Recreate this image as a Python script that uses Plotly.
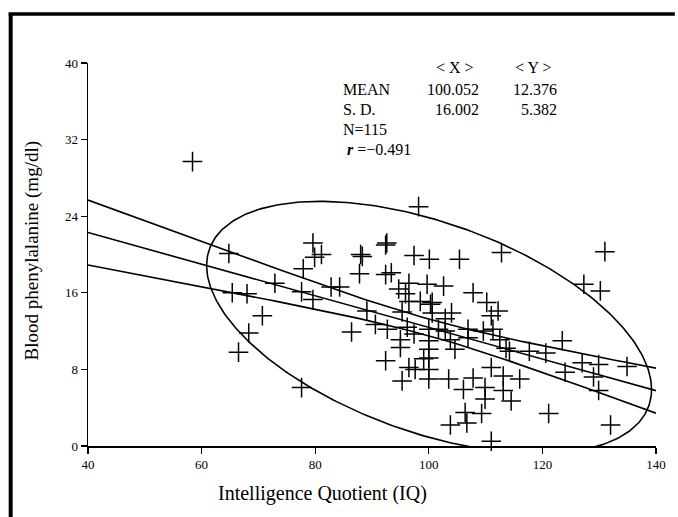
import numpy as np
import plotly.graph_objects as go

# ---- data ----
iq = [58.4, 64.8, 65.4, 68.0, 66.5, 68.3, 70.7, 72.9, 77.6, 79.6,
      77.6, 77.9, 79.6, 79.9, 81.1, 82.8, 84.3, 88.0, 88.3, 87.8,
      86.4, 89.1, 90.6, 92.6, 92.4, 92.4, 93.4, 92.4, 92.7, 94.7,
      95.9, 96.5, 97.4, 98.2, 99.7, 100.1, 102.6, 105.4, 96.5, 98.5,
      100.6, 100.3, 95.3, 100.6, 104.0, 102.9, 96.2, 97.4, 100.0, 101.7,
      102.9, 103.8, 104.6, 95.0, 95.0, 100.0, 100.0, 100.0, 99.1, 96.5,
      97.6, 100.0, 95.3, 100.0, 103.5, 107.8, 106.1, 106.4, 109.3, 103.8,
      106.7, 111.0, 109.9, 109.9, 111.0, 113.1, 113.1, 114.5, 116.0, 106.9,
      106.9, 109.6, 111.3, 112.5, 113.6, 114.2, 107.8, 110.2, 112.2, 111.0,
      112.8, 117.7, 120.6, 123.5, 124.0, 127.0, 129.9, 134.9, 129.0, 129.9,
      121.1, 132.0, 127.3, 130.2, 131.0]
phe = [29.7, 20.1, 16.0, 15.9, 9.8, 11.8, 13.6, 17.0, 16.1, 15.3,
       6.1, 18.5, 21.2, 19.7, 20.0, 16.6, 16.6, 20.0, 19.8, 18.0,
       11.9, 14.1, 12.7, 21.2, 21.0, 17.9, 18.1, 8.9, 12.2, 16.4,
       15.9, 17.0, 19.9, 25.0, 16.9, 19.5, 16.7, 19.5, 15.1, 15.1,
       15.0, 14.8, 14.0, 13.9, 13.9, 13.3, 12.4, 11.7, 12.2, 12.2,
       12.0, 11.1, 10.1, 11.1, 10.3, 11.0, 10.1, 9.2, 9.1, 8.2,
       8.0, 8.0, 6.8, 7.0, 7.0, 7.1, 5.9, 3.5, 3.4, 2.2,
       2.4, 0.5, 6.1, 4.9, 8.2, 7.3, 5.8, 4.7, 7.0, 12.2,
       11.3, 12.0, 12.2, 11.1, 10.2, 9.9, 16.0, 15.0, 14.1, 13.6,
       20.2, 9.9, 9.7, 11.0, 7.7, 8.7, 8.5, 8.3, 7.2, 5.8,
       3.4, 2.2, 16.9, 16.2, 20.3]

# summary statistics printed on the chart
MEAN_X, MEAN_Y = 100.052, 12.376
SD_X, SD_Y = 16.002, 5.382
N = 115
R = -0.491
T_CRIT = 1.981          # t(0.975, N-2)
CHI_C = 2.4477          # sqrt(chi2(0.95, 2))

x_ticks = [40, 60, 80, 100, 120, 140]
y_ticks = [0, 8, 16, 24, 32, 40]

# ---- derived overlays (regression line, its 95% band, 95% ellipse) ----
slope = R * SD_Y / SD_X
icpt = MEAN_Y - slope * MEAN_X
xl = np.linspace(40, 140, 101)
yl = icpt + slope * xl
s_res = SD_Y * np.sqrt(1 - R**2) * np.sqrt((N - 1) / (N - 2))
se = s_res * np.sqrt(1 / N + (xl - MEAN_X) ** 2 / ((N - 1) * SD_X**2))
upper = yl + T_CRIT * se
lower = yl - T_CRIT * se

t = np.linspace(0, 2 * np.pi, 400)
ex = MEAN_X + CHI_C * SD_X * np.cos(t)
ey = MEAN_Y + CHI_C * SD_Y * (R * np.cos(t) + np.sqrt(1 - R**2) * np.sin(t))

W, H = 678, 517
L, Rm, T, B = 88, 17, 63, 71
pw, ph = W - L - Rm, H - T - B


def px(xp):
    return (xp - L) / pw


def py(yp):
    return (H - B - yp) / ph


SERIF = "Liberation Serif, Times New Roman, serif"
lw = 1.6
fig = go.Figure()
for yy in (upper, yl, lower):
    fig.add_trace(go.Scatter(x=xl, y=yy, mode="lines",
                             line=dict(color="black", width=lw), hoverinfo="skip"))
fig.add_trace(go.Scatter(x=ex, y=ey, mode="lines",
                         line=dict(color="black", width=lw), hoverinfo="skip"))
fig.add_trace(go.Scatter(x=iq, y=phe, mode="markers",
                         marker=dict(symbol="cross-thin", size=14,
                                     line=dict(color="black", width=1.5)),
                         cliponaxis=False))

axis_common = dict(showgrid=False, zeroline=False, showline=True, linecolor="black",
                   linewidth=1.5, ticks="outside", ticklen=6, tickwidth=1.3,
                   tickcolor="black", tickfont=dict(family=SERIF, size=13, color="black"))
fig.update_xaxes(range=[40, 140], tickvals=x_ticks, **axis_common)
fig.update_yaxes(range=[0, 40], tickvals=y_ticks, **axis_common)

ann = []
font = dict(family=SERIF, size=16, color="black")
ann.append(dict(text="Blood phenylalanine (mg/dl)", x=px(32), y=py(250), textangle=-90,
                font=dict(family=SERIF, size=19, color="black")))
ann.append(dict(text="Intelligence Quotient (IQ)", x=px(325), y=py(493),
                font=dict(family=SERIF, size=20, color="black")))
ann.append(dict(text="&lt; X &gt;", x=px(458), y=py(68), font=font))
ann.append(dict(text="&lt; Y &gt;", x=px(537), y=py(68), font=font))
ann.append(dict(text="MEAN", x=px(343), y=py(89), xanchor="left", font=font))
ann.append(dict(text=f"{MEAN_X:.3f}", x=px(484), y=py(89), xanchor="right", font=font))
ann.append(dict(text=f"{MEAN_Y:.3f}", x=px(563), y=py(89), xanchor="right", font=font))
ann.append(dict(text="S. D.", x=px(343), y=py(109), xanchor="left", font=font))
ann.append(dict(text=f"{SD_X:.3f}", x=px(484), y=py(109), xanchor="right", font=font))
ann.append(dict(text=f"{SD_Y:.3f}", x=px(563), y=py(109), xanchor="right", font=font))
ann.append(dict(text=f"N={N}", x=px(343), y=py(129), xanchor="left", font=font))
ann.append(dict(text=f"<b><i>r</i></b> =−{abs(R):.3f}", x=px(347), y=py(149),
                xanchor="left", font=font))
for a in ann:
    a.update(xref="paper", yref="paper", showarrow=False)
    a.setdefault("xanchor", "center")
    a.setdefault("yanchor", "middle")

shapes = [
    dict(type="line", xref="paper", yref="paper", x0=px(10), x1=px(10), y0=py(13), y1=py(520),
         line=dict(color="black", width=4)),
    dict(type="line", xref="paper", yref="paper", x0=px(8), x1=px(680), y0=py(14), y1=py(14),
         line=dict(color="black", width=3.5)),
]

fig.update_layout(width=W, height=H, margin=dict(l=L, r=Rm, t=T, b=B),
                  paper_bgcolor="white", plot_bgcolor="white", showlegend=False,
                  annotations=ann, shapes=shapes)
fig.write_html("out.html", config={"displayModeBar": False, "staticPlot": True},
               post_script="document.body.style.margin='0px';document.body.style.overflow='hidden';")
